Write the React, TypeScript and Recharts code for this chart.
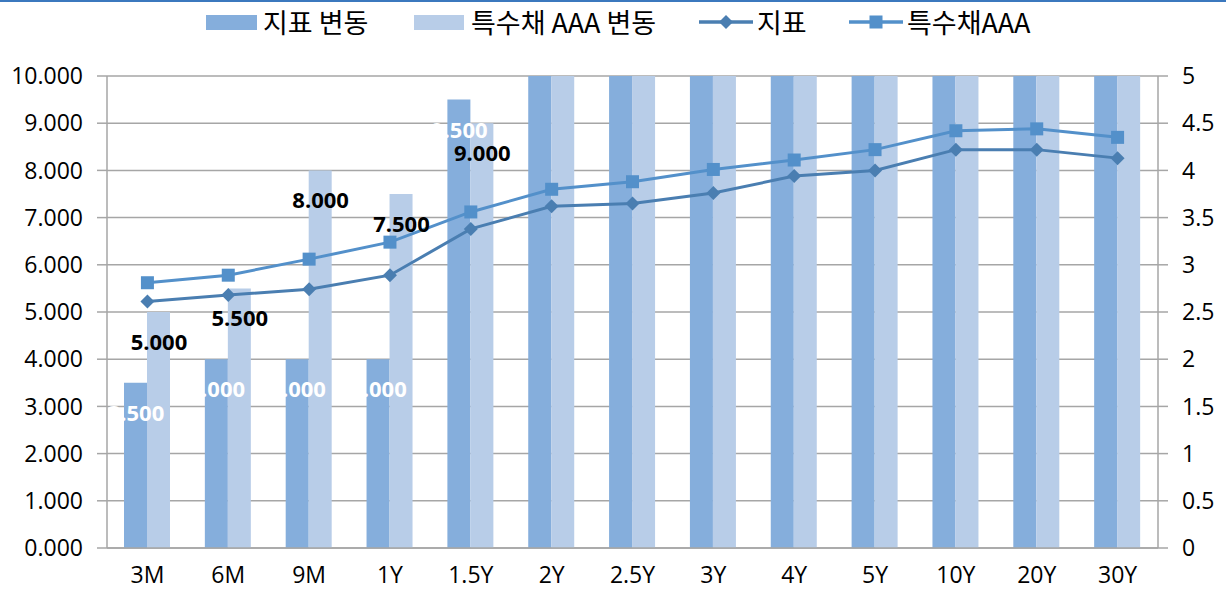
import React from 'react';
import { ComposedChart, Bar, Line, XAxis, YAxis, CartesianGrid, LabelList } from 'recharts';

const categories = ['3M', '6M', '9M', '1Y', '1.5Y', '2Y', '2.5Y', '3Y', '4Y', '5Y', '10Y', '20Y', '30Y'];
const indexChange = [3.5, 4, 4, 4, 9.5, 12, 12, 12, 12, 12, 12, 12, 12];
const aaaChange = [5, 5.5, 8, 7.5, 9, 12, 12, 12, 12, 12, 12, 12, 12];
const indexRate = [2.61, 2.68, 2.74, 2.89, 3.38, 3.62, 3.65, 3.76, 3.94, 4.0, 4.22, 4.22, 4.13];
const aaaRate = [2.81, 2.89, 3.06, 3.24, 3.56, 3.8, 3.88, 4.01, 4.11, 4.22, 4.42, 4.44, 4.35];
const leftTicks = [0, 1, 2, 3, 4, 5, 6, 7, 8, 9, 10];
const rightTicks = [0, 0.5, 1, 1.5, 2, 2.5, 3, 3.5, 4, 4.5, 5];
const seriesNames = ['지표 변동', '특수채 AAA 변동', '지표', '특수채AAA'];

const LEFT_MAX = 10;
const data = categories.map((c, i) => ({
  cat: c,
  idxChg: indexChange[i],
  aaaChg: aaaChange[i],
  idxRate: indexRate[i],
  aaaRate: aaaRate[i],
  idxLbl: indexChange[i] <= LEFT_MAX ? indexChange[i] : null,
  aaaLbl: aaaChange[i] <= LEFT_MAX ? aaaChange[i] : null,
}));

const C_DARK_BAR = '#85AEDC';
const C_LIGHT_BAR = '#B8CDE8';
const C_LINE1 = '#4A7EB1';
const C_LINE2 = '#5390CA';
const GRID = '#A6A6A6';
const FONT = '"Open Sans", "Noto Sans CJK KR", sans-serif';

const Diamond = (props: any) => {
  const { cx, cy, index } = props;
  if (cx == null || cy == null) return null;
  const r = 7;
  return <path key={'d' + index} d={`M${cx},${cy - r}L${cx + r},${cy}L${cx},${cy + r}L${cx - r},${cy}Z`} fill={C_LINE1} />;
};
const Square = (props: any) => {
  const { cx, cy, index } = props;
  if (cx == null || cy == null) return null;
  const s = 13;
  return <rect key={'s' + index} x={cx - s / 2} y={cy - s / 2} width={s} height={s} fill={C_LINE2} />;
};

const makeLabel = (dx: number, color: string) => (props: any) => {
  const { x, y, value, index } = props;
  if (value == null || x == null || y == null) return null;
  return (
    <text key={'l' + index} x={x + dx} y={y + 29} textAnchor="middle" dominantBaseline="central"
      fill={color} fontSize={22} fontWeight="bold" fontFamily={FONT}>
      {Number(value).toFixed(3)}
    </text>
  );
};

const ChartLegend = () => {
  const txt: React.CSSProperties = { fontSize: 27, color: '#000', fontFamily: '"Noto Sans CJK KR", sans-serif', lineHeight: '32px', whiteSpace: 'nowrap' };
  const item: React.CSSProperties = { position: 'absolute', top: 6, display: 'flex', alignItems: 'center' };
  return (
    <>
      <div style={{ ...item, left: 206 }}>
        <div style={{ width: 51, height: 15, background: C_DARK_BAR, marginRight: 6 }} />
        <span style={txt}>{seriesNames[0]}</span>
      </div>
      <div style={{ ...item, left: 414 }}>
        <div style={{ width: 50, height: 15, background: C_LIGHT_BAR, marginRight: 7 }} />
        <span style={txt}>{seriesNames[1]}</span>
      </div>
      <div style={{ ...item, left: 699 }}>
        <svg width={54} height={20} style={{ marginRight: 4 }}>
          <line x1={0} y1={10} x2={54} y2={10} stroke={C_LINE1} strokeWidth={3.5} strokeLinecap="round" />
          <path d="M27,3L34,10L27,17L20,10Z" fill={C_LINE1} />
        </svg>
        <span style={txt}>{seriesNames[2]}</span>
      </div>
      <div style={{ ...item, left: 849 }}>
        <svg width={54} height={20} style={{ marginRight: 4 }}>
          <line x1={0} y1={10} x2={54} y2={10} stroke={C_LINE2} strokeWidth={3.5} strokeLinecap="round" />
          <rect x={20.5} y={3.5} width={13} height={13} fill={C_LINE2} />
        </svg>
        <span style={txt}>{seriesNames[3]}</span>
      </div>
    </>
  );
};

export default function App() {
  const tickStyle = { fontSize: 23, fill: '#000', fontFamily: FONT };
  return (
    <div style={{ position: 'relative', width: 1226, height: 607, background: '#fff' }}>
      <style>{`body{margin:0;background:#fff}`}</style>
      <div style={{ position: 'absolute', left: 0, top: 0, width: 1226, height: 2, background: '#3B78BE', zIndex: 2 }} />
      <div style={{ position: 'absolute', left: 0, top: 0, zIndex: 2 }}>
        <ChartLegend />
      </div>
      <ComposedChart width={1226} height={607} data={data}
        margin={{ top: 76, right: 0, bottom: 0, left: 0 }} barGap={0} barSize={23}>
        <CartesianGrid yAxisId="left" vertical={false} stroke={GRID} strokeWidth={1.5} />
        <XAxis dataKey="cat" height={59} tickLine={false} tickSize={0} tickMargin={19}
          axisLine={{ stroke: GRID, strokeWidth: 1.5 }} tick={tickStyle} interval={0} />
        <YAxis yAxisId="left" orientation="left" width={107} domain={[0, LEFT_MAX]} ticks={leftTicks}
          allowDataOverflow tickFormatter={(v: number) => v.toFixed(3)} tick={tickStyle}
          tickSize={10} tickMargin={14} axisLine={{ stroke: GRID, strokeWidth: 1.5 }} tickLine={{ stroke: GRID, strokeWidth: 1.5 }} />
        <YAxis yAxisId="right" orientation="right" width={68} domain={[0, 5]} ticks={rightTicks}
          tick={tickStyle} tickSize={10} tickMargin={14}
          axisLine={{ stroke: GRID, strokeWidth: 1.5 }} tickLine={{ stroke: GRID, strokeWidth: 1.5 }} />
        <Bar yAxisId="left" dataKey="idxChg" name={seriesNames[0]} fill={C_DARK_BAR} isAnimationActive={false} />
        <Bar yAxisId="left" dataKey="aaaChg" name={seriesNames[1]} fill={C_LIGHT_BAR} isAnimationActive={false} />
        <Line yAxisId="right" dataKey="idxRate" name={seriesNames[2]} stroke={C_LINE1} strokeWidth={3}
          dot={<Diamond />} activeDot={false} isAnimationActive={false} />
        <Line yAxisId="right" dataKey="aaaRate" name={seriesNames[3]} stroke={C_LINE2} strokeWidth={3}
          dot={<Square />} activeDot={false} isAnimationActive={false} />
        <Line yAxisId="left" dataKey="idxLbl" stroke="none" dot={false} activeDot={false}
          legendType="none" isAnimationActive={false} connectNulls={false}>
          <LabelList dataKey="idxLbl" content={makeLabel(-11.5, '#fff')} />
        </Line>
        <Line yAxisId="left" dataKey="aaaLbl" stroke="none" dot={false} activeDot={false}
          legendType="none" isAnimationActive={false} connectNulls={false}>
          <LabelList dataKey="aaaLbl" content={makeLabel(11.5, '#000')} />
        </Line>
      </ComposedChart>
    </div>
  );
}
